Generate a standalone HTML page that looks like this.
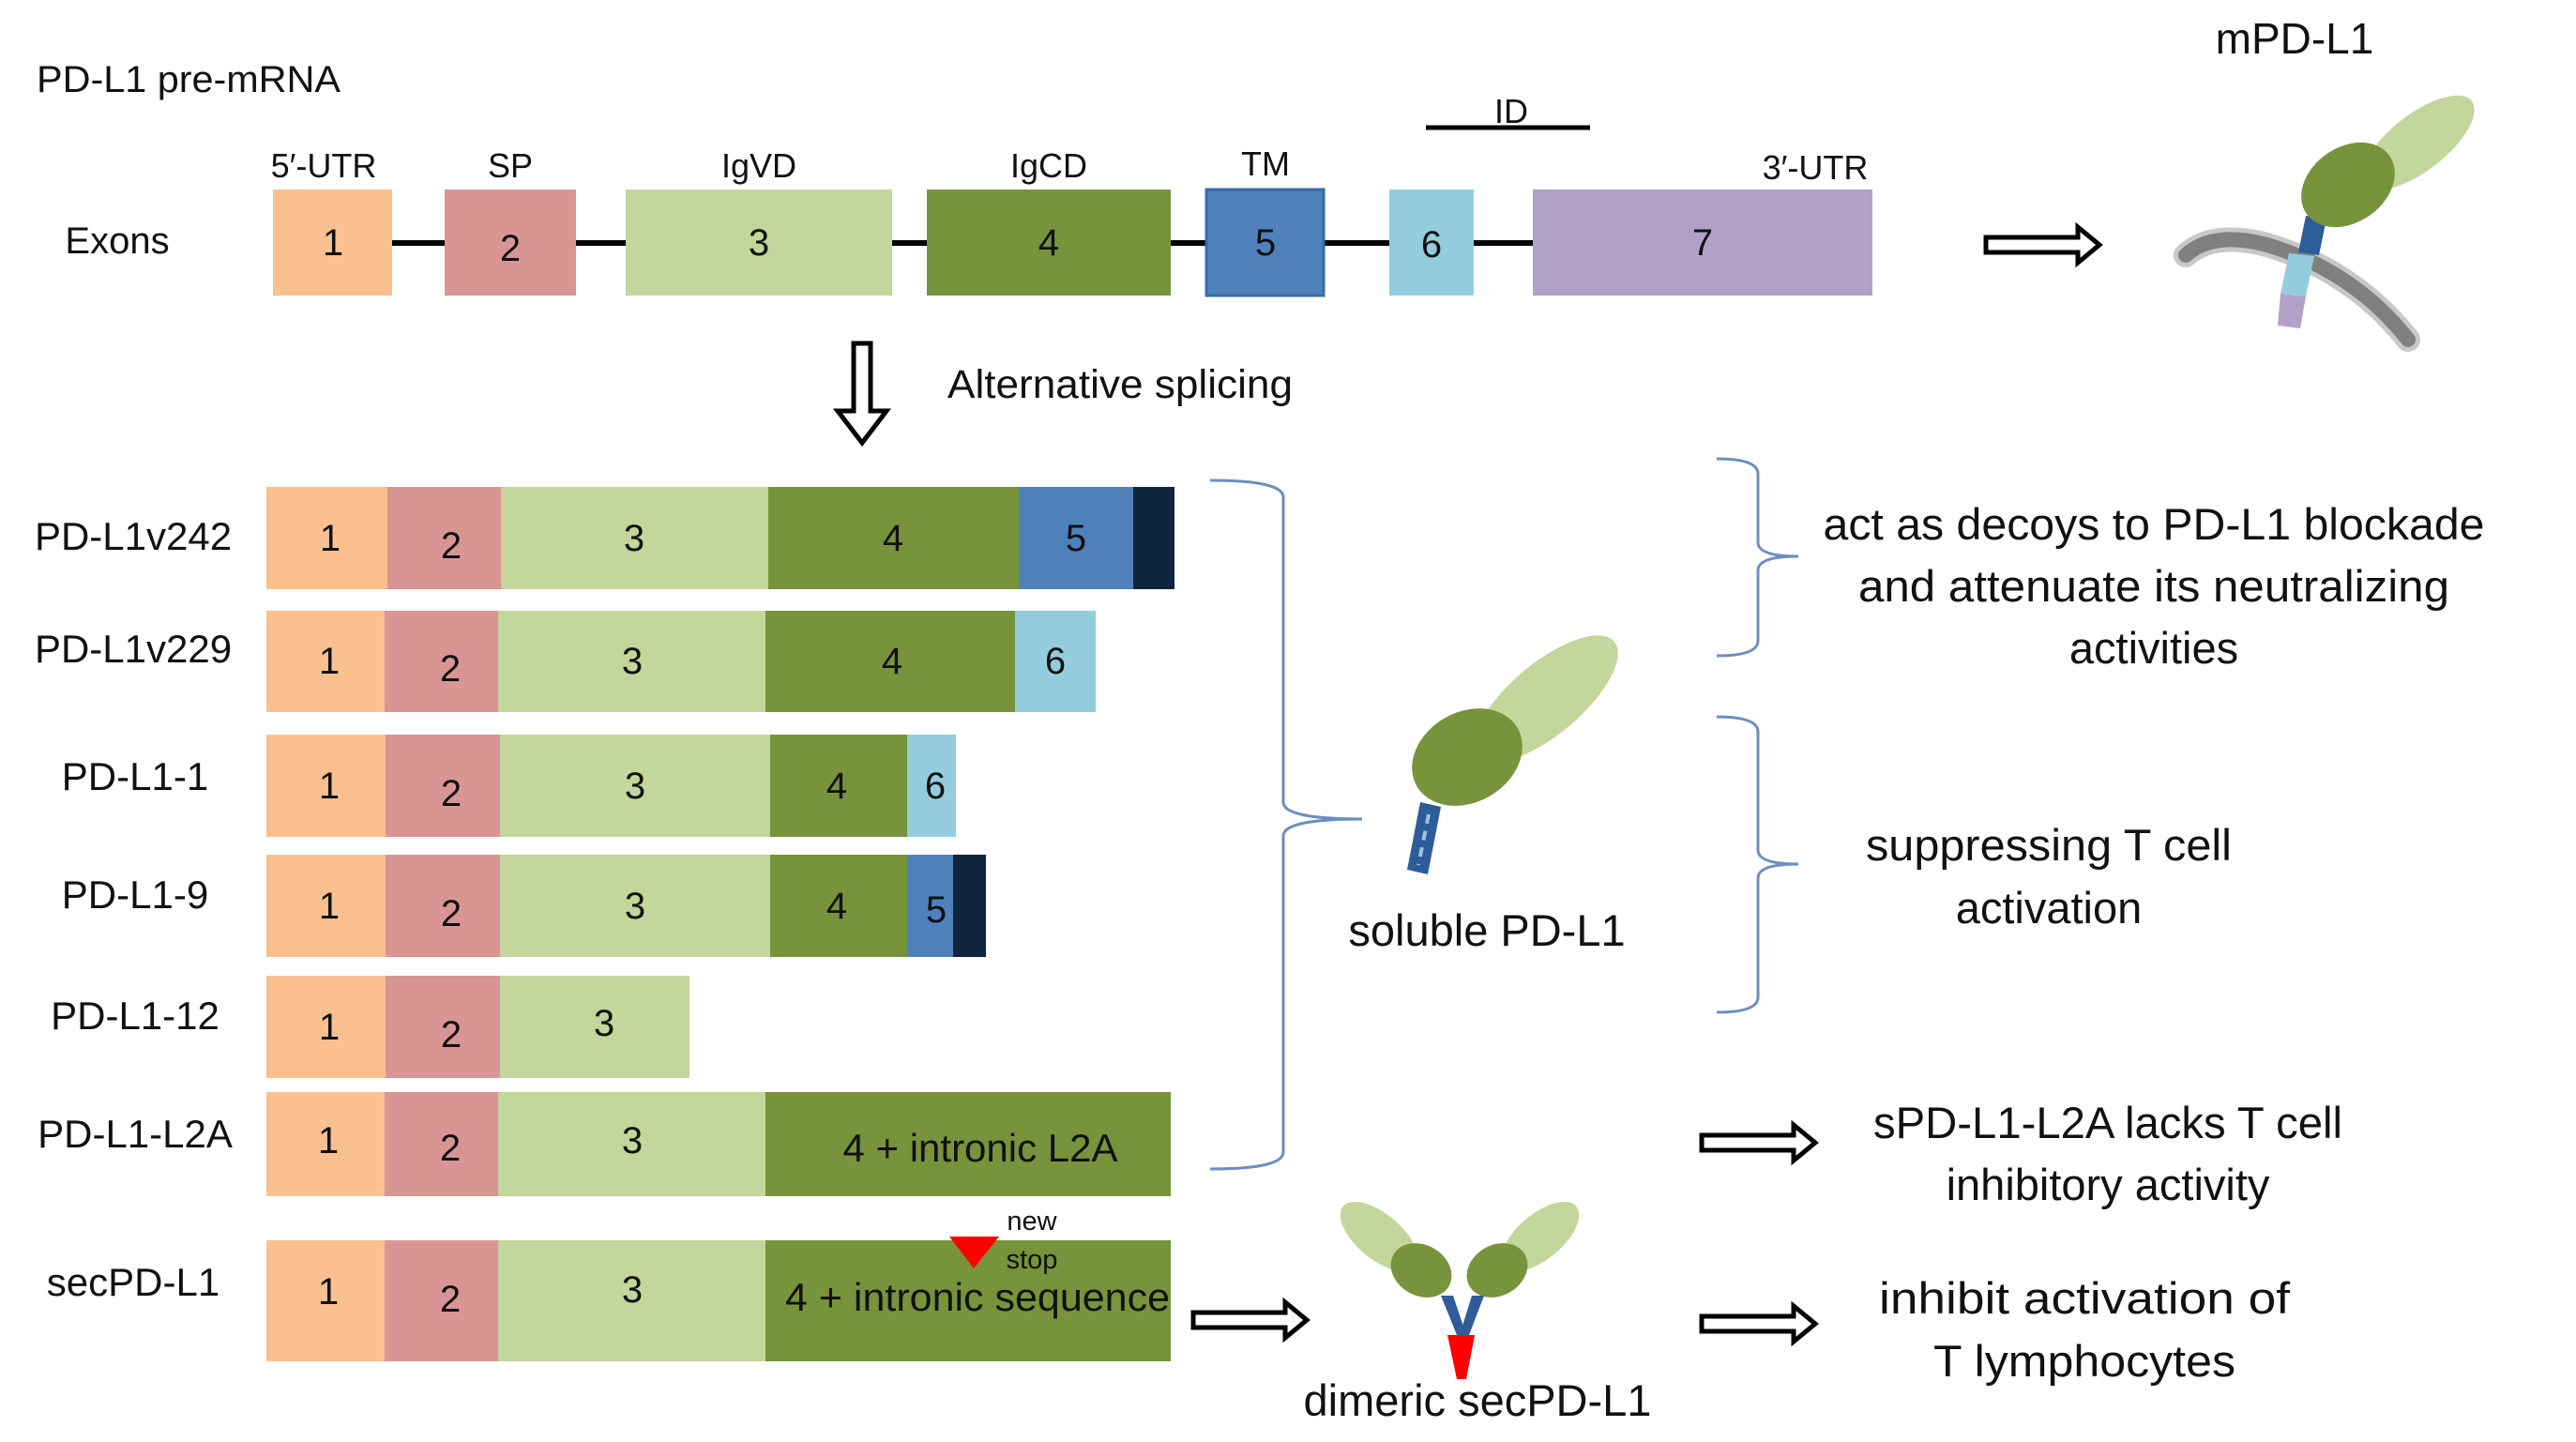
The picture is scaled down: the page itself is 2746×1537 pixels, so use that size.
<!DOCTYPE html>
<html><head><meta charset="utf-8"><style>html,body{margin:0;padding:0;background:#fff}svg{display:block}text{font-family:"Liberation Sans",sans-serif;fill:#111}</style></head>
<body>
<svg width="2746" height="1537" viewBox="0 0 2746 1537" xmlns="http://www.w3.org/2000/svg">
<rect width="2746" height="1537" fill="#fff"/>
<text x="39" y="98" font-size="40" textLength="324" lengthAdjust="spacingAndGlyphs">PD-L1 pre-mRNA</text>
<text x="125" y="270" font-size="40" text-anchor="middle">Exons</text>
<g font-size="36" text-anchor="middle">
<text x="345" y="189">5′-UTR</text>
<text x="544" y="189">SP</text>
<text x="809" y="189">IgVD</text>
<text x="1118" y="189">IgCD</text>
<text x="1349" y="187">TM</text>
<text x="1935" y="191">3′-UTR</text>
<text x="1611" y="131">ID</text>
</g>
<line x1="1520" y1="136" x2="1695" y2="136" stroke="#000" stroke-width="5"/>
<line x1="418" y1="259" x2="1634" y2="259" stroke="#000" stroke-width="6"/>
<g>
<rect x="291" y="202" width="127" height="113" fill="#fac090"/>
<rect x="474" y="202" width="140" height="113" fill="#d99594"/>
<rect x="667" y="202" width="284" height="113" fill="#c3d69b"/>
<rect x="988" y="202" width="260" height="113" fill="#77933c"/>
<rect x="1286" y="202" width="125" height="113" fill="#4f81bd" stroke="#3a6aa5" stroke-width="3"/>
<rect x="1481" y="202" width="90" height="113" fill="#93cddd"/>
<rect x="1634" y="202" width="362" height="113" fill="#b2a1c7"/>
</g>
<g font-size="40" text-anchor="middle">
<text x="355" y="272">1</text><text x="544" y="278">2</text><text x="809" y="272">3</text><text x="1118" y="272">4</text><text x="1349" y="272">5</text><text x="1526" y="274">6</text><text x="1815" y="272">7</text>
</g>
<g fill="#fff" stroke="#000" stroke-width="5" stroke-linejoin="miter">
<polygon points="2117,253 2215,253 2215,242 2238,261 2215,280 2215,269 2117,269"/>
<polygon points="1814,1210 1912,1210 1912,1199 1935,1218 1912,1237 1912,1226 1814,1226"/>
<polygon points="1814,1403 1912,1403 1912,1392 1935,1411 1912,1430 1912,1419 1814,1419"/>
<polygon points="1272,1399 1370,1399 1370,1388 1393,1407 1370,1426 1370,1415 1272,1415"/>
<polygon points="910,366 928,366 928,438 945,438 919,472 893,438 910,438"/>
</g>
<text x="1010" y="424" font-size="43" textLength="368" lengthAdjust="spacingAndGlyphs">Alternative splicing</text>
<text x="2446" y="57" font-size="46" text-anchor="middle">mPD-L1</text>
<path d="M2330,272 Q2360,245 2420,262 Q2510,290 2567,362" fill="none" stroke="#c8c8c8" stroke-width="26" stroke-linecap="round"/>
<path d="M2330,272 Q2360,245 2420,262 Q2510,290 2567,362" fill="none" stroke="#808080" stroke-width="16" stroke-linecap="round"/>
<polygon points="2431,313 2458,316 2452,350 2428,347" fill="#b2a1c7"/>
<polygon points="2440,270 2467,273 2458,316 2431,313" fill="#93cddd"/>
<polygon points="2458,230 2480,233 2472,272 2450,269" fill="#2e5c98"/>
<ellipse cx="2578" cy="152" rx="72" ry="30" transform="rotate(-38 2578 152)" fill="#c3d69b"/>
<ellipse cx="2503" cy="197" rx="54" ry="40" transform="rotate(-35 2503 197)" fill="#77933c"/>
<g>
<rect x="284" y="519" width="129" height="109" fill="#fac090"/><rect x="413" y="519" width="121" height="109" fill="#d99594"/><rect x="534" y="519" width="285" height="109" fill="#c3d69b"/><rect x="819" y="519" width="267" height="109" fill="#77933c"/><rect x="1086" y="519" width="122" height="109" fill="#4f81bd"/><rect x="1208" y="519" width="44" height="109" fill="#0f243e"/>
<rect x="284" y="651" width="126" height="108" fill="#fac090"/><rect x="410" y="651" width="121" height="108" fill="#d99594"/><rect x="531" y="651" width="285" height="108" fill="#c3d69b"/><rect x="816" y="651" width="266" height="108" fill="#77933c"/><rect x="1082" y="651" width="86" height="108" fill="#93cddd"/>
<rect x="284" y="783" width="127" height="109" fill="#fac090"/><rect x="411" y="783" width="122" height="109" fill="#d99594"/><rect x="533" y="783" width="288" height="109" fill="#c3d69b"/><rect x="821" y="783" width="146" height="109" fill="#77933c"/><rect x="967" y="783" width="52" height="109" fill="#93cddd"/>
<rect x="284" y="911" width="127" height="109" fill="#fac090"/><rect x="411" y="911" width="122" height="109" fill="#d99594"/><rect x="533" y="911" width="288" height="109" fill="#c3d69b"/><rect x="821" y="911" width="146" height="109" fill="#77933c"/><rect x="967" y="911" width="49" height="109" fill="#4f81bd"/><rect x="1016" y="911" width="35" height="109" fill="#0f243e"/>
<rect x="284" y="1040" width="127" height="109" fill="#fac090"/><rect x="411" y="1040" width="122" height="109" fill="#d99594"/><rect x="533" y="1040" width="202" height="109" fill="#c3d69b"/>
<rect x="284" y="1164" width="126" height="111" fill="#fac090"/><rect x="410" y="1164" width="121" height="111" fill="#d99594"/><rect x="531" y="1164" width="285" height="111" fill="#c3d69b"/><rect x="816" y="1164" width="432" height="111" fill="#77933c"/>
<rect x="284" y="1322" width="126" height="129" fill="#fac090"/><rect x="410" y="1322" width="121" height="129" fill="#d99594"/><rect x="531" y="1322" width="285" height="129" fill="#c3d69b"/><rect x="816" y="1322" width="432" height="129" fill="#77933c"/>
</g>
<g font-size="40" text-anchor="middle">
<text x="352" y="587">1</text><text x="481" y="595">2</text><text x="676" y="587">3</text><text x="952" y="587">4</text><text x="1147" y="587">5</text>
<text x="351" y="718">1</text><text x="480" y="726">2</text><text x="674" y="718">3</text><text x="951" y="718">4</text><text x="1125" y="718">6</text>
<text x="351" y="851">1</text><text x="481" y="859">2</text><text x="677" y="851">3</text><text x="892" y="851">4</text><text x="997" y="851">6</text>
<text x="351" y="979">1</text><text x="481" y="987">2</text><text x="677" y="979">3</text><text x="892" y="979">4</text><text x="998" y="983">5</text>
<text x="351" y="1108">1</text><text x="481" y="1116">2</text><text x="644" y="1104">3</text>
<text x="350" y="1229">1</text><text x="480" y="1237">2</text><text x="674" y="1229">3</text>
<text x="350" y="1390">1</text><text x="480" y="1398">2</text><text x="674" y="1388">3</text>
</g>
<text x="1045" y="1238" font-size="42" text-anchor="middle">4 + intronic L2A</text>
<text x="1042" y="1397" font-size="42" text-anchor="middle" textLength="410" lengthAdjust="spacingAndGlyphs">4 + intronic sequence</text>
<polygon points="1012,1318 1065,1318 1038,1352" fill="#ff0000"/>
<text x="1100" y="1311" font-size="29" text-anchor="middle">new</text>
<text x="1100" y="1352" font-size="29" text-anchor="middle">stop</text>
<g font-size="42" text-anchor="middle">
<text x="142" y="586">PD-L1v242</text>
<text x="142" y="706">PD-L1v229</text>
<text x="144" y="842">PD-L1-1</text>
<text x="144" y="968">PD-L1-9</text>
<text x="144" y="1097">PD-L1-12</text>
<text x="144" y="1223">PD-L1-L2A</text>
<text x="142" y="1381">secPD-L1</text>
</g>
<g fill="none" stroke="#6c8ebf" stroke-width="3">
<path d="M1290,512 Q1368,512 1368,530 L1368,855 Q1368,873 1452,873 Q1368,873 1368,891 L1368,1228 Q1368,1246 1290,1246"/>
<path d="M1830,489 Q1874,489 1874,505 L1874,578 Q1874,593 1917,593 Q1874,593 1874,608 L1874,683 Q1874,699 1830,699"/>
<path d="M1830,764 Q1874,764 1874,780 L1874,906 Q1874,921 1917,921 Q1874,921 1874,936 L1874,1063 Q1874,1079 1830,1079"/>
</g>
<ellipse cx="1648" cy="745" rx="95" ry="38" transform="rotate(-40 1648 745)" fill="#c3d69b"/>
<ellipse cx="1564" cy="807" rx="62" ry="48" transform="rotate(-30 1564 807)" fill="#77933c"/>
<polygon points="1514,855 1536,860 1522,932 1500,927" fill="#2e5c98"/>
<line x1="1523" y1="868" x2="1512" y2="922" stroke="#9cc3e6" stroke-width="4" stroke-dasharray="10 8"/>
<text x="1585" y="1008" font-size="47" text-anchor="middle">soluble PD-L1</text>
<ellipse cx="1470" cy="1318" rx="50" ry="24" transform="rotate(40 1470 1318)" fill="#c3d69b"/>
<ellipse cx="1642" cy="1318" rx="50" ry="24" transform="rotate(-40 1642 1318)" fill="#c3d69b"/>
<ellipse cx="1515" cy="1354" rx="34" ry="27" transform="rotate(30 1515 1354)" fill="#77933c"/>
<ellipse cx="1596" cy="1354" rx="34" ry="27" transform="rotate(-30 1596 1354)" fill="#77933c"/>
<polygon points="1536,1381 1549,1381 1563,1423 1553,1423" fill="#2e5c98"/>
<polygon points="1569,1381 1582,1381 1566,1423 1556,1423" fill="#2e5c98"/>
<polygon points="1543,1423 1572,1423 1563,1470 1553,1470" fill="#ff0000"/>
<text x="1575" y="1509" font-size="47" text-anchor="middle">dimeric secPD-L1</text>
<g font-size="47" text-anchor="middle">
<text x="2296" y="575" textLength="705" lengthAdjust="spacingAndGlyphs">act as decoys to PD-L1 blockade</text>
<text x="2296" y="641" textLength="630" lengthAdjust="spacingAndGlyphs">and attenuate its neutralizing</text>
<text x="2296" y="707">activities</text>
<text x="2184" y="917" textLength="390" lengthAdjust="spacingAndGlyphs">suppressing T cell</text>
<text x="2184" y="984">activation</text>
<text x="2247" y="1213" textLength="500" lengthAdjust="spacingAndGlyphs">sPD-L1-L2A lacks T cell</text>
<text x="2247" y="1279">inhibitory activity</text>
<text x="2222" y="1400" textLength="438" lengthAdjust="spacingAndGlyphs">inhibit activation of</text>
<text x="2222" y="1467" textLength="322" lengthAdjust="spacingAndGlyphs">T lymphocytes</text>
</g>
</svg>
</body></html>
